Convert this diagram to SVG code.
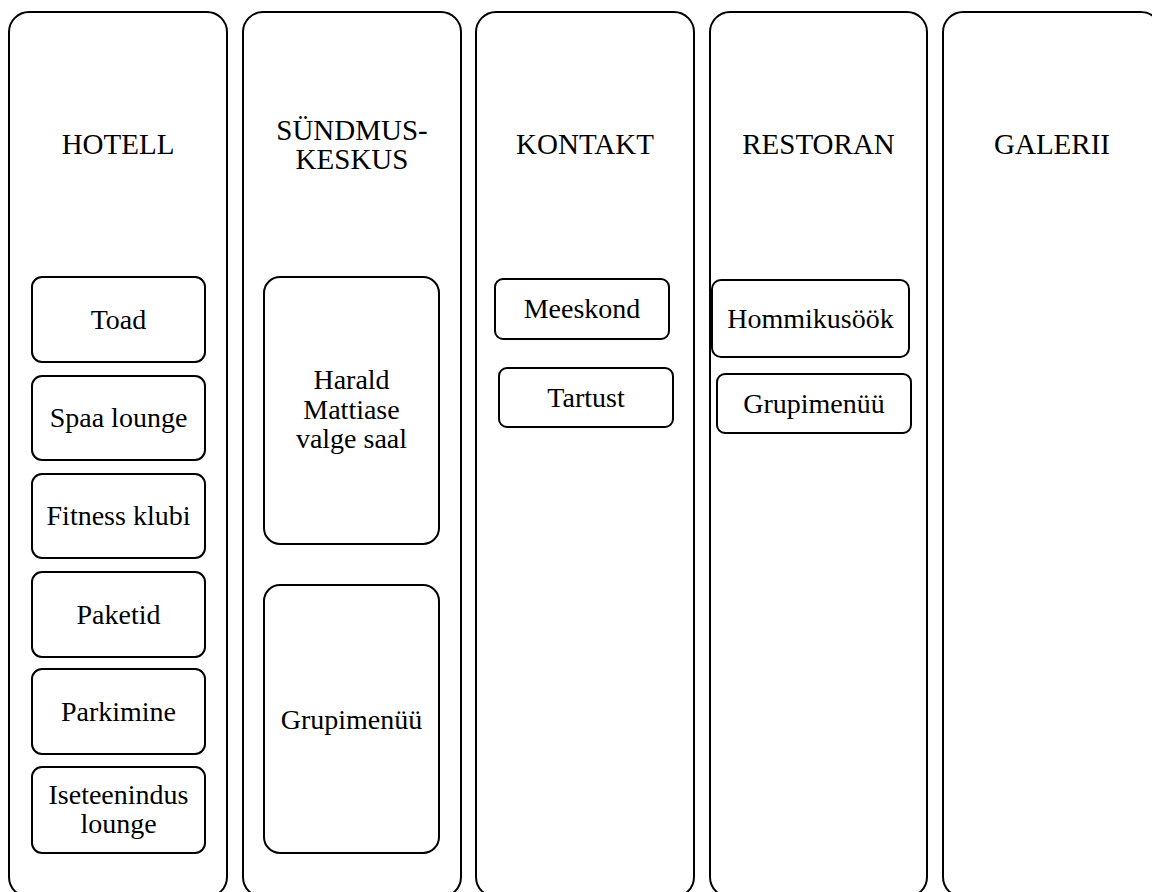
<svg xmlns="http://www.w3.org/2000/svg" width="1152" height="892" viewBox="0 0 1152 892">
  <style>
    .col { fill: #ffffff; stroke: #000000; stroke-width: 2; }
    .box { fill: #ffffff; stroke: #000000; stroke-width: 2; }
    .title { font-family: "Liberation Serif", "Times New Roman", serif; font-size: 29px; fill: #000000; text-anchor: middle; }
    .lbl { font-family: "Liberation Serif", "Times New Roman", serif; font-size: 28px; fill: #000000; text-anchor: middle; }
  </style>
  <rect width="1152" height="892" fill="#ffffff"/>

  <!-- Column: HOTELL -->
  <g id="col-hotell">
    <rect class="col" x="9" y="12" width="218" height="885" rx="20" ry="20"/>
    <text class="title" x="118" y="154">HOTELL</text>
  </g>
  <g id="hotell-toad">
    <rect class="box" x="32" y="277" width="173" height="85" rx="10" ry="10"/>
    <text class="lbl" x="118.5" y="329">Toad</text>
  </g>
  <g id="hotell-spaa">
    <rect class="box" x="32" y="376" width="173" height="84" rx="10" ry="10"/>
    <text class="lbl" x="118.5" y="427">Spaa lounge</text>
  </g>
  <g id="hotell-fitness">
    <rect class="box" x="32" y="474" width="173" height="84" rx="10" ry="10"/>
    <text class="lbl" x="118.5" y="525">Fitness klubi</text>
  </g>
  <g id="hotell-paketid">
    <rect class="box" x="32" y="572" width="173" height="85" rx="10" ry="10"/>
    <text class="lbl" x="118.5" y="624">Paketid</text>
  </g>
  <g id="hotell-parkimine">
    <rect class="box" x="32" y="669" width="173" height="85" rx="10" ry="10"/>
    <text class="lbl" x="118.5" y="721">Parkimine</text>
  </g>
  <g id="hotell-iseteenindus">
    <rect class="box" x="32" y="767" width="173" height="86" rx="10" ry="10"/>
    <text class="lbl" x="118.5" y="804">Iseteenindus</text>
    <text class="lbl" x="118.5" y="833">lounge</text>
  </g>

  <!-- Column: SÜNDMUSKESKUS -->
  <g id="col-sundmuskeskus">
    <rect class="col" x="243" y="12" width="218" height="885" rx="20" ry="20"/>
    <text class="title" x="352" y="139.5">SÜNDMUS-</text>
    <text class="title" x="352" y="168.5">KESKUS</text>
  </g>
  <g id="sundmus-saal">
    <rect class="box" x="264" y="277" width="175" height="267" rx="16" ry="16"/>
    <text class="lbl" x="351.5" y="389">Harald</text>
    <text class="lbl" x="351.5" y="418.5">Mattiase</text>
    <text class="lbl" x="351.5" y="448">valge saal</text>
  </g>
  <g id="sundmus-grupimenuu">
    <rect class="box" x="264" y="585" width="175" height="268" rx="16" ry="16"/>
    <text class="lbl" x="351.5" y="728.5">Grupimenüü</text>
  </g>

  <!-- Column: KONTAKT -->
  <g id="col-kontakt">
    <rect class="col" x="476" y="12" width="218" height="885" rx="20" ry="20"/>
    <text class="title" x="585" y="154">KONTAKT</text>
  </g>
  <g id="kontakt-meeskond">
    <rect class="box" x="495" y="279" width="174" height="60" rx="8" ry="8"/>
    <text class="lbl" x="582" y="318">Meeskond</text>
  </g>
  <g id="kontakt-tartust">
    <rect class="box" x="499" y="368" width="174" height="59" rx="8" ry="8"/>
    <text class="lbl" x="586" y="407">Tartust</text>
  </g>

  <!-- Column: RESTORAN -->
  <g id="col-restoran">
    <rect class="col" x="710" y="12" width="217" height="885" rx="20" ry="20"/>
    <text class="title" x="818.5" y="154">RESTORAN</text>
  </g>
  <g id="restoran-hommikusook">
    <rect class="box" x="712" y="280" width="197" height="77" rx="9" ry="9"/>
    <text class="lbl" x="810.5" y="328">Hommikusöök</text>
  </g>
  <g id="restoran-grupimenuu">
    <rect class="box" x="717" y="374" width="194" height="59" rx="8" ry="8"/>
    <text class="lbl" x="814" y="413">Grupimenüü</text>
  </g>

  <!-- Column: GALERII -->
  <g id="col-galerii">
    <rect class="col" x="943" y="12" width="218" height="885" rx="20" ry="20"/>
    <text class="title" x="1052" y="154">GALERII</text>
  </g>

  <!-- no connectors between nodes -->
  <g id="connectors"/>
</svg>
